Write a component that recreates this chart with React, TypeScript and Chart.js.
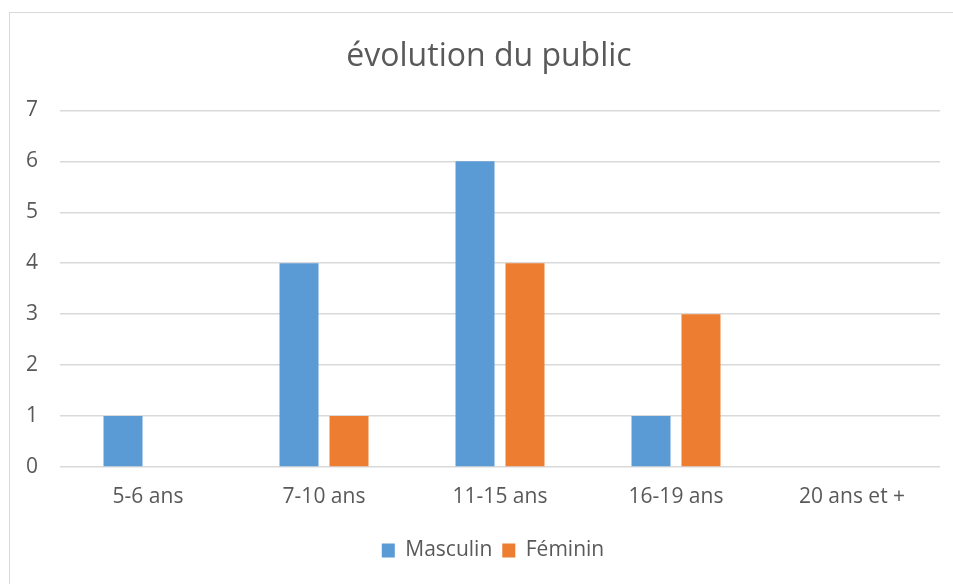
import React, { useEffect, useRef } from "react";
import { Chart, registerables } from "chart.js";

Chart.register(...registerables);

const categories = ["5-6 ans", "7-10 ans", "11-15 ans", "16-19 ans", "20 ans et +"];
const masculin = [1, 4, 6, 1, 0];
const feminin = [0, 1, 4, 3, 0];
const yTicks = [0, 1, 2, 3, 4, 5, 6, 7];

const FONT = "'Open Sans', sans-serif";
const TEXT = "#595959";

const shiftBoxes = {
  id: "shiftBoxes",
  beforeDraw(chart: any) {
    const lg = chart.legend;
    if (lg && !lg._shifted) {
      lg.left += 18;
      lg.right += 18;
      lg._shifted = true;
    }
    const tb = chart.titleBlock;
    if (tb && !tb._shifted) {
      tb.left += 14;
      tb.right += 14;
      tb._shifted = true;
    }
  },
};

export default function App() {
  const ref = useRef<HTMLCanvasElement | null>(null);
  useEffect(() => {
    if (!ref.current) return;
    const chart = new Chart(ref.current, {
      type: "bar",
      data: {
        labels: categories,
        datasets: [
          { label: "Masculin", data: masculin, backgroundColor: "#5B9BD5", categoryPercentage: 0.568, barPercentage: 0.78 },
          { label: "Féminin", data: feminin, backgroundColor: "#ED7D31", categoryPercentage: 0.568, barPercentage: 0.78 },
        ],
      },
      options: {
        animation: false,
        responsive: false,
        layout: { padding: { left: 10, right: 13, top: 12, bottom: 13 } },
        plugins: {
          title: {
            display: true,
            text: "évolution du public",
            color: TEXT,
            font: { family: FONT, size: 32, weight: "normal" },
            padding: { top: 26, bottom: 34 },
          },
          legend: {
            position: "bottom",
            labels: {
              color: TEXT,
              font: { family: FONT, size: 21 },
              boxWidth: 13,
              boxHeight: 14,
              padding: 10,
            },
          },
          tooltip: { enabled: false },
        },
        scales: {
          x: {
            grid: { display: false, drawTicks: false },
            border: { display: false },
            ticks: { color: TEXT, font: { family: FONT, size: 21 }, padding: 17 },
            afterFit: (s: any) => { s.height = 63; },
          },
          y: {
            min: 0,
            max: 7,
            afterBuildTicks: (s: any) => { s.ticks = yTicks.map((v) => ({ value: v })); },
            grid: { color: "#D9D9D9", lineWidth: 1.5, drawTicks: false },
            border: { display: false },
            ticks: { color: TEXT, font: { family: FONT, size: 21 }, padding: 22 },
            afterFit: (s: any) => { s.width = 50; },
          },
        },
      },
      plugins: [shiftBoxes],
    });
    return () => chart.destroy();
  }, []);
  return (
    <div style={{ position: "fixed", left: 0, top: 0, width: 953, height: 584, background: "#fff" }}>
      <div style={{ position: "absolute", left: 9, top: 12, width: 960, height: 600, border: "1px solid #D9D9D9" }} />
      <canvas ref={ref} width={953} height={584} style={{ position: "absolute", left: 0, top: 0 }} />
    </div>
  );
}
